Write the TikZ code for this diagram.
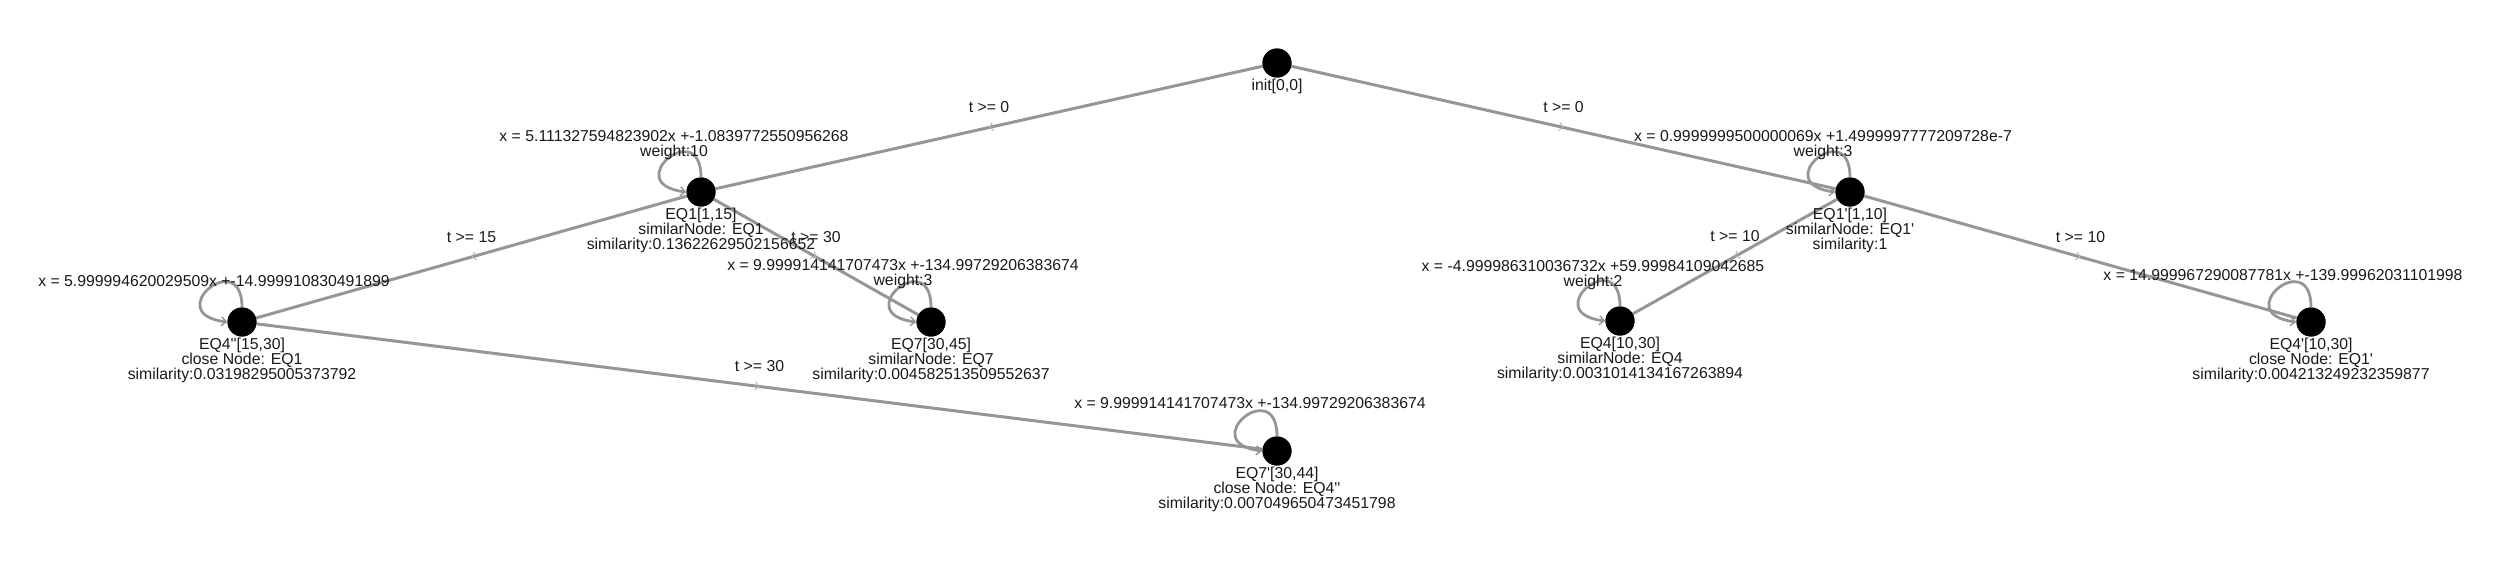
\documentclass[tikz,border=0pt]{standalone}
\usepackage{fontspec}
\setmainfont{Liberation Sans}
\usetikzlibrary{arrows.meta,decorations.markings}
\definecolor{edgegray}{RGB}{150,150,150}
\definecolor{tipgray}{RGB}{180,180,180}
\definecolor{txt}{RGB}{25,25,25}
\newcommand{\qs}{\textquotesingle}
\begin{document}
\begin{tikzpicture}[x=1pt,y=-1pt,
  state/.style={circle,fill=black,minimum size=29pt,inner sep=0pt},
  lbl/.style={font=\fontsize{15.8}{15}\selectfont,text=txt,align=center,inner sep=0pt},
  below lbl/.style={lbl,anchor=north},
  loop lbl/.style={lbl,anchor=south,text depth=0pt},
  edge lbl/.style={lbl,yshift=20pt},
  tedge/.style={draw=edgegray,line width=3pt,postaction={decorate},
    decoration={markings,mark=at position 0.5 with {\arrow{Straight Barb[length=3.5pt,width=8pt,line width=1pt,color=tipgray]}}}},
  selfloop/.style={draw=edgegray,line width=2.8pt,-{Straight Barb[length=5pt,width=9pt,line width=1.4pt]}},
]
\useasboundingbox (0,0) rectangle (2500,562);

% states
\node[state] (init) at (1277,63) {};
\node[state] (eqA) at (701,192) {};
\node[state] (eqB) at (242,322) {};
\node[state] (eqC) at (931,322) {};
\node[state] (eqD) at (1277,451) {};
\node[state] (eqE) at (1850,192) {};
\node[state] (eqF) at (1620,321) {};
\node[state] (eqG) at (2311,322) {};

% transitions
\path[tedge] (init) -- node[edge lbl]{t >= 0} (eqA);
\path[tedge] (init) -- node[edge lbl]{t >= 0} (eqE);
\path[tedge] (eqA) -- node[edge lbl]{t >= 15} (eqB);
\path[tedge] (eqA) -- node[edge lbl]{t >= 30} (eqC);
\path[tedge] (eqB) -- node[edge lbl]{t >= 30} (eqD);
\path[tedge] (eqE) -- node[edge lbl]{t >= 10} (eqF);
\path[tedge] (eqE) -- node[edge lbl]{t >= 10} (eqG);

% self loops
\foreach \n in {eqA,eqB,eqC,eqD,eqE,eqF,eqG}{
  \draw[selfloop] (\n.north) .. controls +(0,-62) and +(-68,-8) .. (\n.west);
}

% redraw states on top
\foreach \n in {init,eqA,eqB,eqC,eqD,eqE,eqF,eqG}{
  \fill[black] (\n.center) circle (14.5pt);
}

% loop labels
\node[loop lbl] (lA) at ([shift={(-27,-35)}]eqA.center) {x = 5.111327594823902x +-1.0839772550956268\\weight:10};
\node[loop lbl] (lB) at ([shift={(-28,-35)}]eqB.center) {x = 5.999994620029509x +-14.999910830491899};
\node[loop lbl] (lC) at ([shift={(-28,-36)}]eqC.center) {x = 9.999914141707473x +-134.99729206383674\\weight:3};
\node[loop lbl] (lD) at ([shift={(-27,-42)}]eqD.center) {x = 9.999914141707473x +-134.99729206383674};
\node[loop lbl] (lE) at ([shift={(-27,-35)}]eqE.center) {x = 0.9999999500000069x +1.4999997777209728e-7\\weight:3};
\node[loop lbl] (lF) at ([shift={(-27,-34)}]eqF.center) {x = -4.999986310036732x +59.99984109042685\\weight:2};
\node[loop lbl] (lG) at ([shift={(-28,-41)}]eqG.center) {x = 14.999967290087781x +-139.99962031101998};

% state labels
\node[below lbl] (tI) at ([shift={(0,16)}]init.center) {init[0,0]};
\node[below lbl] (tA) at ([shift={(0,16)}]eqA.center) {EQ1[1,15]\\similarNode: EQ1\\similarity:0.13622629502156652};
\node[below lbl] (tB) at ([shift={(0,16)}]eqB.center) {EQ4\qs\qs[15,30]\\close Node: EQ1\\similarity:0.03198295005373792};
\node[below lbl] (tC) at ([shift={(0,16)}]eqC.center) {EQ7[30,45]\\similarNode: EQ7\\similarity:0.004582513509552637};
\node[below lbl] (tD) at ([shift={(0,16)}]eqD.center) {EQ7\qs[30,44]\\close Node: EQ4\qs\qs\\similarity:0.007049650473451798};
\node[below lbl] (tE) at ([shift={(0,16)}]eqE.center) {EQ1\qs[1,10]\\similarNode: EQ1\qs\\similarity:1};
\node[below lbl] (tF) at ([shift={(0,16)}]eqF.center) {EQ4[10,30]\\similarNode: EQ4\\similarity:0.0031014134167263894};
\node[below lbl] (tG) at ([shift={(0,16)}]eqG.center) {EQ4\qs[10,30]\\close Node: EQ1\qs\\similarity:0.004213249232359877};
\end{tikzpicture}
\end{document}
